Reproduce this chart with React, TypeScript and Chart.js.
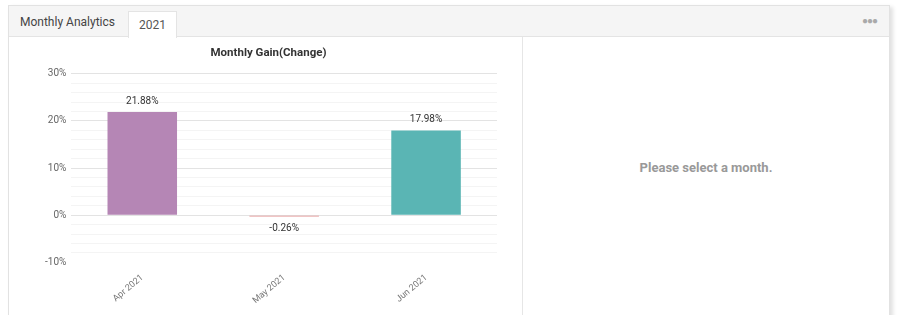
import React, { useEffect, useRef } from "react";
import { Chart, registerables } from "chart.js";

Chart.register(...registerables);

const categories = ["Apr 2021", "May 2021", "Jun 2021"];
const gains = [21.88, -0.26, 17.98];
const barColors = ["#b586b5", "#e38b8b", "#5ab5b4"];
const yMin = -10;
const yMax = 30;
const yStep = 2;
const yLabelStep = 10;

const valueLabels = {
  id: "valueLabels",
  afterDatasetsDraw(chart: any) {
    const ctx = chart.ctx;
    const meta = chart.getDatasetMeta(0);
    ctx.save();
    ctx.font = "10px Roboto";
    ctx.fillStyle = "#333";
    ctx.textAlign = "center";
    meta.data.forEach((bar: any, i: number) => {
      const v = gains[i];
      const txt = v.toFixed(2) + "%";
      if (v >= 0) {
        ctx.textBaseline = "bottom";
        ctx.fillText(txt, bar.x, bar.y - 6);
      } else {
        ctx.textBaseline = "top";
        ctx.fillText(txt, bar.x, bar.y + 7);
      }
    });
    ctx.restore();
  },
};

function GainChart() {
  const ref = useRef<HTMLCanvasElement>(null);
  useEffect(() => {
    if (!ref.current) return;
    Chart.defaults.font.family = "Roboto";
    const chart = new Chart(ref.current, {
      type: "bar",
      data: {
        labels: categories,
        datasets: [
          {
            data: gains,
            backgroundColor: barColors,
            borderWidth: 0,
            barPercentage: 0.49,
            categoryPercentage: 1,
          },
        ],
      },
      options: {
        animation: false,
        responsive: false,
        maintainAspectRatio: false,
        layout: { padding: { left: 31, right: 25, top: 0, bottom: 8 } },
        plugins: {
          legend: { display: false },
          tooltip: { enabled: false },
          title: {
            display: true,
            text: "Monthly Gain(Change)",
            color: "#333",
            font: { size: 11.5, weight: "bold", family: "Roboto" },
            padding: { top: 9, bottom: 14 },
          },
        },
        scales: {
          x: {
            grid: { display: false },
            border: { display: false },
            ticks: {
              color: "#777",
              font: { size: 9 },
              minRotation: 40,
              maxRotation: 40,
              padding: 2,
            },
          },
          y: {
            min: yMin,
            max: yMax,
            border: { display: false },
            grid: {
              drawTicks: false,
              color: (c: any) => {
                const v = c.tick?.value;
                if (v === yMin) return "rgba(0,0,0,0)";
                return v % yLabelStep === 0 ? "#e3e3e3" : "#f4f4f4";
              },
            },
            ticks: {
              stepSize: yStep,
              autoSkip: false,
              padding: 5,
              color: "#666",
              font: { size: 10 },
              callback: (v: any) => (Number(v) % yLabelStep === 0 ? v + "%" : ""),
            },
          },
        },
      },
      plugins: [valueLabels],
    });
    return () => chart.destroy();
  }, []);
  return <canvas ref={ref} width={513} height={279} style={{ display: "block" }} />;
}

export default function App() {
  return (
    <div
      style={{
        position: "fixed",
        left: 0,
        top: 0,
        width: 897,
        height: 315,
        overflow: "hidden",
        background: "#fff",
        fontFamily: "Roboto, sans-serif",
      }}
    >
      <div
        style={{
          position: "absolute",
          left: 8,
          top: 5,
          width: 880,
          height: 330,
          border: "1px solid #e2e2e2",
          boxShadow: "3px 2px 4px rgba(0,0,0,0.12)",
          background: "#fff",
        }}
      >
        <div
          style={{
            position: "absolute",
            left: 0,
            top: 0,
            width: 880,
            height: 30,
            background: "#f5f5f5",
            borderBottom: "1px solid #e4e4e4",
          }}
        >
          <div
            style={{
              position: "absolute",
              left: 11,
              top: 0,
              height: 30,
              lineHeight: "32px",
              fontSize: 12,
              color: "#444",
            }}
          >
            Monthly Analytics
          </div>
          <div
            style={{
              position: "absolute",
              left: 119,
              top: 5,
              width: 47,
              height: 26,
              background: "#fff",
              border: "1px solid #e4e4e4",
              borderBottom: "none",
              textAlign: "center",
              lineHeight: "27px",
              fontSize: 12,
              color: "#555",
            }}
          >
            2021
          </div>
          <div
            style={{
              position: "absolute",
              right: 12,
              top: 0,
              lineHeight: "29px",
              fontSize: 10,
              letterSpacing: -1,
              color: "#aaa",
            }}
          >
            ●●●
          </div>
        </div>
        <div
          style={{
            position: "absolute",
            left: 0,
            top: 31,
            width: 513,
            height: 300,
            borderRight: "1px solid #e6e6e6",
          }}
        >
          <GainChart />
        </div>
        <div
          style={{
            position: "absolute",
            left: 514,
            top: 154,
            width: 366,
            textAlign: "center",
            fontSize: 13,
            fontWeight: "bold",
            color: "#999",
          }}
        >
          Please select a month.
        </div>
      </div>
    </div>
  );
}
